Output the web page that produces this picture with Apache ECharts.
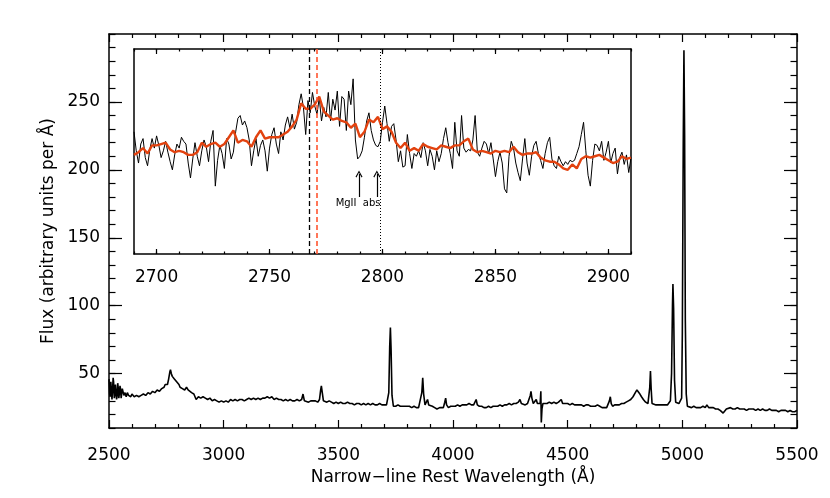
<!DOCTYPE html>
<html>
<head>
<meta charset="utf-8">
<script src="https://cdn.jsdelivr.net/npm/echarts@6/dist/echarts.min.js"></script>
<style>
html, body { margin: 0; padding: 0; background: #fff; }
#main { width: 830px; height: 498px; }
</style>
</head>
<body>
<div id="main"></div>
<script>
// full spectrum: [rest wavelength (A), flux]
var mainSpectrum = [
    [2500,46],[2503,35],[2505,33],[2508,44],[2510,43],[2513,31],[2515,36],[2518,47],[2520,44],[2523,32],
    [2525,34],[2528,42],[2530,41],[2533,31],[2535,33],[2538,43],[2540,40],[2543,32],[2545,35],[2548,41],
    [2550,39],[2553,32],[2555,33],[2558,39],[2560,38],[2565,34],[2570,36],[2575,33],[2580,36],[2585,34],
    [2590,35],[2595,33],[2600,35],[2610,33],[2620,34],[2630,33],[2640,34],[2650,35],[2660,34],[2670,36],
    [2680,35],[2690,37],[2700,36],[2710,38],[2720,37],[2730,39],[2740,40],[2745,42],[2750,43],[2755,42],
    [2760,46],[2765,51],[2768,53],[2772,50],[2776,48],[2780,49],[2785,46],[2790,47],[2795,44],[2800,45],
    [2805,42],[2810,40],[2815,41],[2820,39],[2830,38],[2838,40],[2845,38],[2850,37],[2860,36],[2870,35],
    [2875,33],[2880,31],[2890,33],[2900,32],[2910,33],[2920,32],[2930,31],[2940,32],[2950,30],[2960,31],
    [2970,30],[2980,29],[2990,30],[3000,29],[3010,30],[3020,29],[3030,31],[3040,30],[3050,31],[3060,30],
    [3070,31],[3080,31],[3090,30],[3100,31],[3110,32],[3120,31],[3130,32],[3140,31],[3150,32],[3160,31],
    [3170,32],[3180,32],[3190,33],[3200,32],[3210,33],[3220,31],[3230,32],[3240,31],[3250,31],[3260,30],
    [3270,31],[3280,30],[3290,31],[3300,30],[3310,30],[3320,31],[3330,30],[3340,31],[3346,35],[3352,30],
    [3360,30],[3370,29],[3380,30],[3390,30],[3400,30],[3410,29],[3418,31],[3423,38],[3426,41],[3430,36],
    [3435,30],[3440,31],[3450,29],[3460,30],[3470,29],[3480,28],[3490,29],[3500,28],[3510,29],[3520,28],
    [3530,28],[3540,29],[3550,28],[3560,28],[3570,27],[3580,28],[3590,28],[3600,27],[3610,28],[3620,27],
    [3630,28],[3640,27],[3650,28],[3660,27],[3670,27],[3680,28],[3690,27],[3700,27],[3710,27],[3716,28],
    [3720,36],[3724,70],[3727,84],[3730,68],[3734,34],[3740,26],[3750,26],[3760,27],[3770,26],[3780,26],
    [3790,26],[3800,26],[3810,26],[3820,25],[3830,26],[3840,25],[3850,25],[3858,26],[3864,36],[3868,47],
    [3872,35],[3878,27],[3884,28],[3889,31],[3894,27],[3900,27],[3910,26],[3920,25],[3930,24],[3935,23],
    [3942,25],[3950,24],[3958,25],[3964,29],[3968,32],[3972,27],[3980,25],[3990,26],[4000,26],[4010,26],
    [4020,27],[4030,26],[4040,27],[4050,27],[4060,27],[4070,28],[4080,27],[4090,27],[4096,28],[4101,31],
    [4106,27],[4115,26],[4125,26],[4135,25],[4145,25],[4155,26],[4165,25],[4175,26],[4185,26],[4195,26],
    [4205,27],[4215,26],[4225,27],[4235,27],[4245,28],[4255,27],[4265,28],[4275,28],[4285,29],[4292,31],
    [4298,28],[4305,28],[4315,27],[4325,28],[4333,29],[4337,34],[4340,37],[4344,32],[4350,28],[4356,29],
    [4363,31],[4368,28],[4375,27],[4380,28],[4383,37],[4385,14],[4388,24],[4392,28],[4400,28],[4410,28],
    [4420,29],[4430,28],[4440,29],[4450,28],[4460,29],[4468,30],[4472,31],[4478,28],[4490,28],[4500,28],
    [4510,27],[4520,28],[4530,27],[4540,27],[4550,27],[4560,27],[4570,26],[4580,27],[4590,27],[4600,26],
    [4610,26],[4620,26],[4630,27],[4640,26],[4650,25],[4660,25],[4670,25],[4676,26],[4682,30],[4686,33],
    [4690,28],[4696,26],[4705,27],[4715,27],[4725,27],[4735,28],[4745,28],[4755,29],[4765,30],[4775,31],
    [4785,33],[4795,36],[4802,38],[4808,37],[4815,35],[4822,33],[4830,31],[4840,29],[4850,28],[4855,29],
    [4858,40],[4861,52],[4864,39],[4868,28],[4875,27],[4885,27],[4895,27],[4905,27],[4915,27],[4925,27],
    [4935,27],[4942,28],[4948,30],[4953,50],[4957,100],[4959,116],[4962,98],[4966,45],[4971,29],[4978,28],
    [4985,28],[4992,28],[4997,32],[5000,80],[5004,220],[5007,288],[5010,225],[5013,90],[5017,35],[5022,26],
    [5030,25],[5040,25],[5050,26],[5060,25],[5070,25],[5080,25],[5090,26],[5100,25],[5107,27],[5115,25],
    [5125,25],[5135,25],[5145,24],[5155,24],[5165,23],[5172,22],[5178,21],[5184,22],[5192,24],[5200,24],
    [5210,25],[5220,24],[5230,24],[5240,25],[5250,24],[5260,24],[5270,24],[5280,23],[5290,24],[5300,24],
    [5310,24],[5320,23],[5330,24],[5340,23],[5350,24],[5360,23],[5370,23],[5380,24],[5390,23],[5400,23],
    [5410,23],[5420,22],[5430,23],[5440,23],[5450,23],[5460,22],[5470,23],[5480,22],[5490,22],[5500,23]
];

// inset: black spectrum, 1 A steps from 2690
var insetBlackStart = 2690;
var insetBlack = [
    228,214,205,219,223,209,203,215,223,216,
    225,218,209,214,221,213,206,200,211,219,
    216,224,221,219,205,194,208,220,210,203,
    214,222,217,206,221,229,188,207,218,212,
    201,223,219,208,213,228,238,240,233,236,
    231,222,203,214,223,210,218,222,214,199,
    216,226,231,219,212,228,222,233,239,231,
    241,230,235,248,256,246,226,251,242,257,
    247,241,253,236,246,239,257,236,252,244,
    258,232,254,252,229,258,248,267,222,208,
    210,214,224,236,242,229,222,218,217,221,
    235,247,234,221,232,234,222,206,214,202,
    203,226,212,201,212,210,214,209,220,214,
    203,215,210,200,214,206,212,223,231,220,
    212,201,235,214,210,240,216,213,215,214,
    222,240,213,210,216,221,219,212,220,208,
    195,206,213,205,186,183,210,221,216,205,
    198,192,208,223,205,196,210,218,221,212,
    207,201,212,220,224,208,203,201,210,206,
    203,206,204,207,206,207,212,217,226,235,
    214,196,188,207,219,218,214,221,207,213,
    221,205,212,216,197,209,213,204,211,198,209
];

// inset: red (smoothed) spectrum, 2 A steps from 2690
var insetRedStart = 2690;
var insetRed = [
    211,213,216,212,218, 218,219,220,215,213, 214,213,211,211,213,
    220,217,219,220,217, 219,224,229,220,222, 221,217,224,229,223,
    224,224,224,226,228, 232,237,249,245,245, 248,254,243,240,237,
    238,236,235,231,234, 224,228,237,235,239, 230,232,228,220,216,
    220,214,216,214,219, 217,216,215,218,217, 216,218,218,221,223,
    215,213,214,213,212, 214,213,214,213,217, 213,211,212,212,213,
    209,207,206,206,204, 201,200,204,201,208, 210,209,210,211,209,
    207,205,206,210,208, 209
];

var yTickLabels = [50, 100, 150, 200, 250];
var insetTickLabels = [2700, 2750, 2800, 2850, 2900];
var blackDashWave = 2767.5;
var redDashWave = 2771;
var dottedWave = 2799;
var arrowWaves = [2789.6, 2797.5];
var arrowFlux = [180, 197];
var absLabel = { text: 'MgII  abs', wave: 2789.2, flux: 175 };

window.onload = function() {
    var chart = echarts.init(document.getElementById('main'), null, { renderer: 'canvas' }),
        font = 'DejaVu Sans',
        red = '#e2420f',
        option;

    function toPairs(start, step, values) {
        var out = [];
        for (var i = 0; i < values.length; i++) {
            out.push([start + i * step, values[i]]);
        }
        return out;
    }

    function plain(v) { return String(v); }

    var line = { show: true, lineStyle: { color: '#000', width: 1.5 } };
    var noLine = { show: false };

    function tick(len, custom) {
        var t = { show: true, inside: true, length: len, lineStyle: { color: '#000', width: 1.2 } };
        if (custom) t.customValues = custom;
        return t;
    }

    var arrowPath = 'path://M0,7 L5,0 L10,7 L8.6,7.6 L5,2.4 L1.4,7.6 Z';

    option = {
        animation: false,
        backgroundColor: '#fff',
        grid: [
            { left: 109, top: 34, width: 688, height: 394 },
            { left: 134, top: 49, width: 497, height: 205 }
        ],
        xAxis: [
            {
                type: 'value', gridIndex: 0, position: 'bottom',
                min: 2500, max: 5500, interval: 500,
                axisLine: line, axisTick: tick(8),
                minorTick: { show: true, splitNumber: 5, length: 4, lineStyle: { color: '#000', width: 1.2 } },
                splitLine: { show: false },
                axisLabel: { formatter: plain, fontFamily: font, fontSize: 17, color: '#000', margin: 19 },
                name: 'Narrow\u2212line Rest Wavelength (\u00c5)',
                nameLocation: 'middle', nameGap: 34,
                nameTextStyle: { fontFamily: font, fontSize: 17, color: '#000' }
            },
            {
                type: 'value', gridIndex: 0, position: 'top',
                min: 2500, max: 5500, interval: 500,
                axisLine: line, axisTick: tick(8),
                minorTick: { show: true, splitNumber: 5, length: 4, lineStyle: { color: '#000', width: 1.2 } },
                splitLine: { show: false }, axisLabel: { show: false }
            },
            {
                type: 'value', gridIndex: 1, position: 'bottom',
                min: 2690, max: 2910, interval: 10,
                axisLine: line, axisTick: tick(2.5),
                splitLine: { show: false }, axisLabel: { show: false }
            },
            {
                type: 'value', gridIndex: 1, position: 'bottom',
                min: 2690, max: 2910,
                axisLine: noLine, axisTick: tick(5, insetTickLabels),
                splitLine: { show: false },
                axisLabel: { customValues: insetTickLabels, formatter: plain, fontFamily: font, fontSize: 17, color: '#000', margin: 15 }
            },
            {
                type: 'value', gridIndex: 1, position: 'top',
                min: 2690, max: 2910, interval: 10,
                axisLine: line, axisTick: tick(2.5),
                splitLine: { show: false }, axisLabel: { show: false }
            },
            {
                type: 'value', gridIndex: 1, position: 'top',
                min: 2690, max: 2910,
                axisLine: noLine, axisTick: tick(5, insetTickLabels),
                splitLine: { show: false }, axisLabel: { show: false }
            }
        ],
        yAxis: [
            {
                type: 'value', gridIndex: 0, position: 'left',
                min: 10, max: 300, interval: 10,
                axisLine: line, axisTick: tick(6.5),
                splitLine: { show: false }, axisLabel: { show: false },
                name: 'Flux (arbitrary units per \u00c5)',
                nameLocation: 'middle', nameGap: 52,
                nameTextStyle: { fontFamily: font, fontSize: 17, color: '#000' }
            },
            {
                type: 'value', gridIndex: 0, position: 'left',
                min: 10, max: 300,
                axisLine: noLine, axisTick: tick(13, yTickLabels),
                splitLine: { show: false },
                axisLabel: { customValues: yTickLabels, formatter: plain, fontFamily: font, fontSize: 17, color: '#000', margin: 9 }
            },
            {
                type: 'value', gridIndex: 0, position: 'right',
                min: 10, max: 300, interval: 10,
                axisLine: line, axisTick: tick(6.5),
                splitLine: { show: false }, axisLabel: { show: false }
            },
            {
                type: 'value', gridIndex: 0, position: 'right',
                min: 10, max: 300,
                axisLine: noLine, axisTick: tick(13, yTickLabels),
                splitLine: { show: false }, axisLabel: { show: false }
            },
            {
                type: 'value', gridIndex: 1, position: 'left',
                min: 138, max: 289,
                axisLine: line, axisTick: { show: false },
                splitLine: { show: false }, axisLabel: { show: false }
            },
            {
                type: 'value', gridIndex: 1, position: 'right',
                min: 138, max: 289,
                axisLine: line, axisTick: { show: false },
                splitLine: { show: false }, axisLabel: { show: false }
            }
        ],
        series: [
            {
                name: 'spectrum', type: 'line', xAxisIndex: 0, yAxisIndex: 0,
                data: mainSpectrum, showSymbol: false, symbol: 'none',
                lineStyle: { color: '#000', width: 1.6 }
            },
            {
                name: 'inset black', type: 'line', xAxisIndex: 2, yAxisIndex: 4,
                data: toPairs(insetBlackStart, 1, insetBlack), symbol: 'none',
                lineStyle: { color: '#000', width: 1 }
            },
            {
                name: 'inset red', type: 'line', xAxisIndex: 2, yAxisIndex: 4,
                data: toPairs(insetRedStart, 2, insetRed), symbol: 'none',
                lineStyle: { color: red, width: 2.4 }
            },
            {
                name: 'lines', type: 'line', xAxisIndex: 2, yAxisIndex: 4, data: [],
                markLine: {
                    silent: true, symbol: 'none', label: { show: false },
                    data: [
                        { xAxis: blackDashWave, lineStyle: { color: '#000', width: 1.3, type: [5, 3] } },
                        { xAxis: redDashWave, lineStyle: { color: '#ff5530', width: 1.6, type: [5, 3] } },
                        { xAxis: dottedWave, lineStyle: { color: '#000', width: 1, type: [1, 2] } }
                    ]
                }
            },
            {
                name: 'arrows', type: 'line', xAxisIndex: 2, yAxisIndex: 4, data: [],
                markLine: {
                    silent: true, symbol: ['none', arrowPath], symbolSize: [7, 7],
                    label: { show: false },
                    lineStyle: { color: '#000', width: 1.2, type: 'solid' },
                    data: arrowWaves.map(function(w) {
                        return [{ coord: [w, arrowFlux[0]] }, { coord: [w, arrowFlux[1]] }];
                    })
                },
                markPoint: {
                    silent: true, symbolSize: 0,
                    data: [{
                        coord: [absLabel.wave, absLabel.flux],
                        label: { show: true, formatter: absLabel.text, fontFamily: font, fontSize: 10, color: '#000' }
                    }]
                }
            }
        ]
    };

    chart.setOption(option);
};
</script>
</body>
</html>
